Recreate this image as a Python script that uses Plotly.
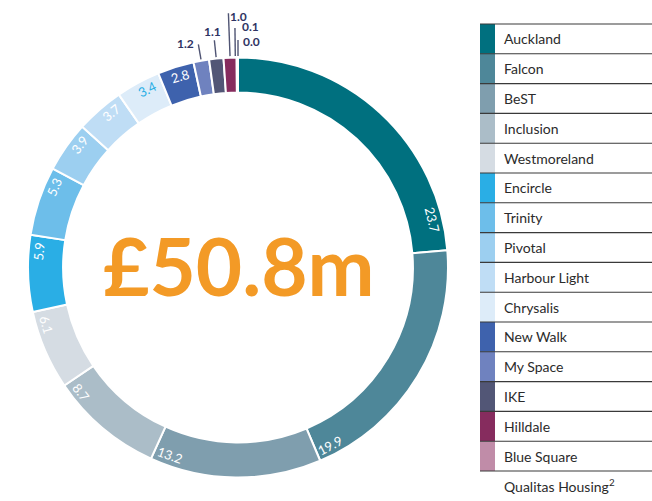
import math
import plotly.graph_objects as go

# ---------------- data ----------------
names = ["Auckland", "Falcon", "BeST", "Inclusion", "Westmoreland", "Encircle",
         "Trinity", "Pivotal", "Harbour Light", "Chrysalis", "New Walk",
         "My Space", "IKE", "Hilldale", "Blue Square", "Qualitas Housing<sup>2</sup>"]
values = [23.7, 19.9, 13.2, 8.7, 6.1, 5.9, 5.3, 3.9, 3.7, 3.4, 2.8,
          1.2, 1.1, 1.0, 0.1, 0.0]
colors = ["#00707F", "#4E8799", "#7F9EAE", "#ABBDC8", "#D5DCE3", "#2AAEE5",
          "#6DBEEA", "#9CCFF0", "#BFDDF5", "#DDECF9", "#3E62AD", "#6F82BF",
          "#525676", "#862C5E", "#C08CA8", None]
total_label = "£50.8m"

# ---------------- layout / style ----------------
W, H = 652, 501
CX, CY = 238.0, 267.5       # ring centre in pixels (from top-left)
R_OUT = 210.0
HOLE = 0.833
R_LABEL = 200.0
LABEL_BACKOFF = 4.5          # degrees before the clockwise end of a slice
BACKOFF_OVERRIDE = {"Auckland": 9.0}
INSIDE_FONT = "Lato"
label_color_override = {"Chrysalis": "#2AAEE5"}
# callouts for the small slices: (line length, angle nudge, xanchor, yanchor, dx, dy)
CALLOUTS = {
    "My Space": (15, 0.0, "right", "middle", -3, -1),
    "IKE": (17, 0.0, "center", "middle", -2, -9),
    "Hilldale": (43, 0.0, "left", "middle", 1, 3),
    "Blue Square": (28, -0.55, "left", "middle", 6, -2),
    "Qualitas Housing<sup>2</sup>": (16, 0.0, "left", "middle", 4, 1.5),
}
CALLOUT_LINE = "#4F5473"
CALLOUT_TEXT = "#2F3363"
LEG_X0, LEG_X1, LEG_XEND = 480, 495, 652
LEG_TOP, LEG_ROW = 24.0, 29.8
LEG_TEXT_X = 502


def px(x):
    return x / W


def py(y):
    return 1 - y / H


fig = go.Figure()
fig.add_trace(go.Pie(
    labels=names, values=values, sort=False, direction="clockwise", rotation=0,
    hole=HOLE, textinfo="none", showlegend=False,
    marker=dict(colors=[c if c else "#ffffff" for c in colors],
                line=dict(color="#ffffff", width=2)),
    domain=dict(x=[px(CX - R_OUT), px(CX + R_OUT)],
                y=[py(CY + R_OUT), py(CY - R_OUT)]),
    hoverinfo="label+value",
))

annotations = []
shapes = []
total = sum(values)
cum = 0.0
for name, v in zip(names, values):
    a0 = cum / total * 360.0
    cum += v
    a1 = cum / total * 360.0
    if v >= 2:
        th = a1 - BACKOFF_OVERRIDE.get(name, LABEL_BACKOFF)
        t = math.radians(th)
        x = CX + R_LABEL * math.sin(t)
        y = CY - R_LABEL * math.cos(t)
        ang = th - 180 if 90 < th < 270 else th
        if ang > 180:
            ang -= 360
        annotations.append(dict(
            x=px(x), y=py(y), xref="paper", yref="paper", text=f"{v:.1f}",
            showarrow=False, textangle=ang, xanchor="center", yanchor="middle",
            font=dict(family=INSIDE_FONT, size=13,
                      color=label_color_override.get(name, "#ffffff"))))
    else:
        length, nudge, xa, ya, dx, dy = CALLOUTS[name]
        th = (a0 + a1) / 2 + nudge
        t = math.radians(th)
        r0, r1 = R_OUT + 1.5, R_OUT + 1.5 + length
        x0, y0 = CX + r0 * math.sin(t), CY - r0 * math.cos(t)
        x1, y1 = CX + r1 * math.sin(t), CY - r1 * math.cos(t)
        shapes.append(dict(type="line", xref="paper", yref="paper",
                           x0=px(x0), y0=py(y0), x1=px(x1), y1=py(y1),
                           line=dict(color=CALLOUT_LINE, width=1.4)))
        annotations.append(dict(
            x=px(x1 + dx), y=py(y1 + dy), xref="paper", yref="paper",
            text=f"{v:.1f}", showarrow=False, xanchor=xa, yanchor=ya,
            borderpad=0,
            font=dict(family="Lato", size=12, color=CALLOUT_TEXT, weight="bold")))

# centre total
annotations.append(dict(x=px(CX + 1), y=py(CY - 3), xref="paper", yref="paper",
                        text=total_label, showarrow=False, xanchor="center",
                        yanchor="middle",
                        font=dict(family="Lato", size=80, color="#F39A26",
                                  weight="bold")))

# legend table
for i, (name, c) in enumerate(zip(names, colors)):
    top = LEG_TOP + i * LEG_ROW
    bot = top + LEG_ROW
    if c:
        shapes.append(dict(type="rect", xref="paper", yref="paper",
                           x0=px(LEG_X0), x1=px(LEG_X1), y0=py(bot), y1=py(top),
                           fillcolor=c, line=dict(width=0), layer="below"))
        shapes.append(dict(type="line", xref="paper", yref="paper",
                           x0=px(LEG_X0), x1=px(LEG_XEND), y0=py(bot), y1=py(bot),
                           line=dict(color="#3a3a3a", width=1.1)))
    if i == 0:
        shapes.append(dict(type="line", xref="paper", yref="paper",
                           x0=px(LEG_X0), x1=px(LEG_XEND), y0=py(top), y1=py(top),
                           line=dict(color="#3a3a3a", width=1.1)))
    annotations.append(dict(x=px(LEG_TEXT_X), y=py((top + bot) / 2), xref="paper",
                            yref="paper", text=name, showarrow=False,
                            xanchor="left", yanchor="middle",
                            font=dict(family="Lato", size=14, color="#2b2b2b")))

fig.update_layout(
    width=W, height=H, margin=dict(l=0, r=0, t=0, b=0),
    paper_bgcolor="#ffffff", plot_bgcolor="#ffffff",
    annotations=annotations, shapes=shapes,
)
fig.write_html("out.html", config={"displayModeBar": False},
               post_script="document.body.style.margin='0';"
                           "document.body.style.padding='0';"
                           "document.body.style.overflow='hidden';")
